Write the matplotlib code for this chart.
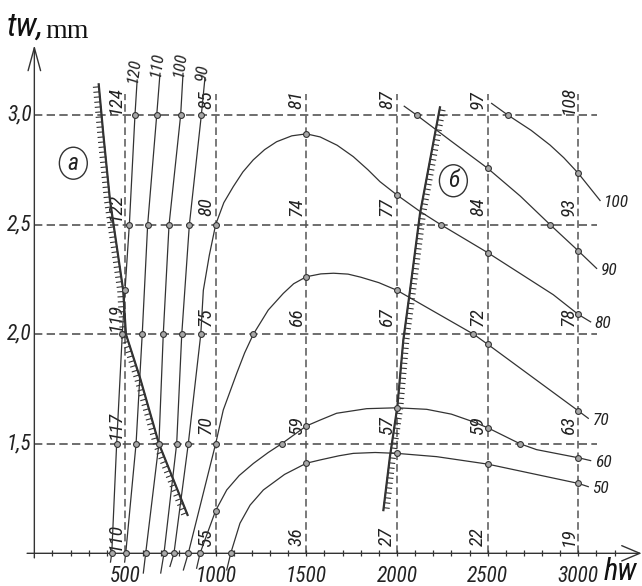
import matplotlib
matplotlib.use('Agg')
import matplotlib.pyplot as plt
from matplotlib import patheffects as pe
from matplotlib import font_manager as fm
from matplotlib.patches import Ellipse
import numpy as np

# ---------------- data ----------------
grid_x = [500, 1000, 1500, 2000, 2500, 3000]
grid_y = [1.5, 2.0, 2.5, 3.0]
x_tick_labels = ['500', '1000', '1500', '2000', '2500', '3000']
y_tick_labels = ['1,5', '2,0', '2,5', '3,0']
minor_ticks = list(range(100, 3300, 100))

# numbers written along each vertical gridline (top to bottom)
value_rows_y = [3.07, 2.58, 2.08, 1.585, 1.075]
values_500 = ['124', '122', '119', '117', '110']
values_1000 = ['85', '80', '75', '70', '55']
values_1500 = ['81', '74', '66', '59', '36']
values_2000 = ['87', '77', '67', '57', '27']
values_2500 = ['97', '84', '72', '59', '22']
values_3000 = ['108', '93', '78', '63', '19']

# region "a" family (labels at top)
c120_x = [420, 427, 454, 485, 500, 524, 555, 567]
c120_y = [0.96, 1.0, 1.5, 2.0, 2.2, 2.5, 3.0, 3.16]
c110_x = [498, 504, 561, 595, 625, 675, 693]
c110_y = [0.96, 1.0, 1.5, 2.0, 2.5, 3.0, 3.19]
c100_x = [601, 614, 687, 711, 743, 807, 820]
c100_y = [0.91, 1.0, 1.5, 2.0, 2.5, 3.0, 3.19]
c90a_x = [697, 715, 785, 813, 855, 921, 941]
c90a_y = [0.91, 1.0, 1.5, 2.0, 2.5, 3.0, 3.17]

# main family (labels at right)
c80_x = [748, 770, 849, 918, 932, 965, 1000, 1045, 1097, 1150, 1207, 1270, 1336, 1420,
         1500, 1576, 1670, 1759, 1840, 1906, 2000, 2127, 2241, 2500, 2862, 3000, 3068]
c80_y = [0.94, 1.0, 1.5, 2.0, 2.2, 2.36, 2.5, 2.6, 2.673, 2.74, 2.795, 2.842, 2.878, 2.905,
         2.914, 2.90, 2.862, 2.81, 2.75, 2.696, 2.635, 2.56, 2.5, 2.372, 2.18, 2.09, 2.056]
c70_x = [822, 849, 1000, 1042, 1116, 1160, 1208, 1290, 1373, 1430, 1500, 1580, 1650,
         1730, 1800, 1900, 2000, 2422, 2500, 3000, 3055]
c70_y = [0.924, 1.0, 1.5, 1.654, 1.821, 1.915, 2.0, 2.11, 2.186, 2.23, 2.262, 2.275, 2.278,
         2.274, 2.26, 2.235, 2.2, 2.0, 1.954, 1.65, 1.616]
c60_x = [895, 914, 1000, 1061, 1130, 1208, 1290, 1364, 1500, 1576, 1667, 1833, 2000, 2164,
         2300, 2421, 2500, 2678, 2770, 3000, 3068]
c60_y = [0.932, 1.0, 1.195, 1.289, 1.355, 1.41, 1.46, 1.5, 1.581, 1.608, 1.639, 1.66, 1.664,
         1.657, 1.635, 1.60, 1.573, 1.5, 1.473, 1.436, 1.423]
c50_x = [1061, 1083, 1134, 1190, 1263, 1380, 1500, 1576, 1680, 1759, 1880, 2000, 2219, 2500,
         3000, 3055]
c50_y = [0.924, 1.0, 1.137, 1.22, 1.289, 1.36, 1.411, 1.426, 1.445, 1.456, 1.46, 1.456, 1.441,
         1.407, 1.319, 1.304]

# region "б" family (labels at right)
c90b_x = [2040, 2108, 2300, 2500, 2680, 2844, 3000, 3101]
c90b_y = [3.04, 3.0, 2.88, 2.757, 2.63, 2.5, 2.38, 2.30]
c100b_x = [2522, 2611, 2740, 2844, 2920, 3000, 3120]
c100b_y = [3.053, 3.0, 2.93, 2.863, 2.805, 2.734, 2.61]

# hatched boundaries
bound_a_x = [845, 687, 583, 505, 490, 417, 380, 355]
bound_a_y = [1.175, 1.5, 1.8, 2.0, 2.2, 2.612, 2.916, 3.14]
bound_b_x = [1925, 1961, 2002, 2035, 2072, 2127, 2237]
bound_b_y = [1.197, 1.44, 1.669, 1.973, 2.2, 2.55, 3.035]

top_curves = [('120', c120_x, c120_y), ('110', c110_x, c110_y),
              ('100', c100_x, c100_y), ('90', c90a_x, c90a_y)]
right_curves = [('80', c80_x, c80_y), ('70', c70_x, c70_y), ('60', c60_x, c60_y),
                ('50', c50_x, c50_y), ('90', c90b_x, c90b_y), ('100', c100b_x, c100b_y)]

region_labels = [('a', 215, 2.78), ('б', 2311, 2.70)]

# ---------------- fonts ----------------
_names = {f.name for f in fm.fontManager.ttflist}
_narrow = None
for n in ['Liberation Sans Narrow', 'Roboto Condensed', 'Open Sans Condensed',
          'Noto Sans Condensed', 'DejaVu Sans Condensed']:
    if n in _names:
        _narrow = n
        break
if _narrow is None:
    for n in sorted(_names):
        if ('Narrow' in n or 'Condensed' in n) and 'CJK' not in n and 'Mono' not in n:
            _narrow = n
            break
_dv_cond = any(f.name == 'DejaVu Sans' and str(f.stretch) in ('condensed', '300', '75')
               for f in fm.fontManager.ttflist)
if _narrow is not None:
    NARROW = [_narrow, 'DejaVu Sans']
    K = 1.0
elif _dv_cond:
    NARROW = ['DejaVu Sans']
    K = 0.88
else:
    NARROW = ['DejaVu Sans']
    K = 0.78

TXT = dict(style='italic', family=NARROW, stretch='condensed', color='#222222')

# ---------------- drawing ----------------
LC = '#333333'
GC = '#555555'

fig = plt.figure(figsize=(6.42, 5.86), dpi=100)
ax = fig.add_axes([0, 0, 1, 1])
ax.set_xlim(-189.4, 3351.3)
ax.set_ylim(0.8508, 3.5248)
ax.axis('off')

# dashed grid
for gy in grid_y:
    ax.plot([0, 3103], [gy, gy], color=GC, lw=1.2, ls=(0, (5, 2.6)), zorder=1)
for gx in grid_x:
    ax.plot([gx, gx], [1.0, 3.095], color=GC, lw=1.1, ls=(0, (5, 2.6)), zorder=1)

# axes with open arrows
ax.annotate('', xy=(3349, 1.0), xytext=(-40, 1.0),
            arrowprops=dict(arrowstyle='->,head_length=1.3,head_width=0.55',
                            lw=1.0, color=LC, shrinkA=0, shrinkB=0))
ax.annotate('', xy=(0, 3.319), xytext=(0, 0.979),
            arrowprops=dict(arrowstyle='->,head_length=1.65,head_width=0.45',
                            lw=1.0, color=LC, shrinkA=0, shrinkB=0))
ax.plot(minor_ticks, [1.0] * len(minor_ticks), ls='none', marker='|',
        ms=5, mew=0.9, color=LC, zorder=3)

# tick labels
for gx, lab in zip(grid_x, x_tick_labels):
    ax.annotate(lab, (gx, 1.0), xytext=(0, -9.5), textcoords='offset points',
                ha='center', va='top', fontsize=15.5 * K, **TXT)
for gy, lab in zip(grid_y, y_tick_labels):
    ax.annotate(lab, (0, gy), xytext=(-2, 0), textcoords='offset points',
                ha='right', va='center', fontsize=15.5 * K, **TXT)

# numbers along vertical gridlines
for gx, vals in zip(grid_x, [values_500, values_1000, values_1500,
                             values_2000, values_2500, values_3000]):
    for vy, v in zip(value_rows_y, vals):
        ax.annotate(v, (gx, vy), xytext=(-7, 0), textcoords='offset points',
                    ha='center', va='center', rotation=90, fontsize=14 * K, **TXT)

grid_levels = [1.0] + grid_y


def draw_curve(xs, ys):
    xs = np.asarray(xs, float)
    ys = np.asarray(ys, float)
    ax.plot(xs, ys, color=LC, lw=0.9, zorder=4, solid_joinstyle='round')
    m = np.isin(xs, grid_x) | np.isin(ys, grid_levels)
    ax.plot(xs[m], ys[m], ls='none', marker='o', ms=4.2, mfc='#a8a8a8',
            mec='#333333', mew=0.8, zorder=5)


for lab, xs, ys in top_curves:
    draw_curve(xs, ys)
    ax.annotate(lab, (xs[-1], ys[-1]), xytext=(-3, -2), textcoords='offset points',
                ha='left', va='center', rotation=83, rotation_mode='anchor',
                fontsize=12.5 * K, **TXT)

for lab, xs, ys in right_curves:
    draw_curve(xs, ys)
    ax.annotate(lab, (xs[-1], ys[-1]), xytext=(3, -1.5), textcoords='offset points',
                ha='left', va='center', fontsize=12.5 * K, **TXT)

# hatched boundaries
ax.plot(bound_a_x, bound_a_y, color=LC, lw=0.8, zorder=4,
        path_effects=[pe.withTickedStroke(angle=90, spacing=3.6, length=1.1)])
ax.plot(bound_a_x, bound_a_y, color=LC, lw=1.6, zorder=4)
ax.plot(bound_b_x, bound_b_y, color=LC, lw=0.8, zorder=4,
        path_effects=[pe.withTickedStroke(angle=-90, spacing=3.6, length=1.1)])
ax.plot(bound_b_x, bound_b_y, color=LC, lw=1.6, zorder=4)

# circled region letters
for lab, rx, ry in region_labels:
    ax.add_patch(Ellipse((rx, ry), 154, 0.146, fill=False, ec=LC, lw=1.0, zorder=4))
    ax.text(rx, ry, lab, ha='center', va='center', fontsize=17 * K, zorder=5, **TXT)

# axis titles
fig.text(7 / 642, 1 - 36 / 586, 'tw,', fontsize=24 * K, style='italic',
         family=NARROW, stretch='condensed', color='#111111', va='baseline', ha='left')
fig.text(45 / 642, 1 - 38 / 586, 'mm', fontsize=20,
         family=['Liberation Serif', 'DejaVu Serif'],
         color='#111111', va='baseline', ha='left')
fig.text(637 / 642, 1 - 580 / 586, 'hw', fontsize=22 * K, style='italic',
         family=NARROW, stretch='condensed', color='#111111', va='baseline', ha='right')

fig.savefig('out.png', dpi=100, facecolor='white')
